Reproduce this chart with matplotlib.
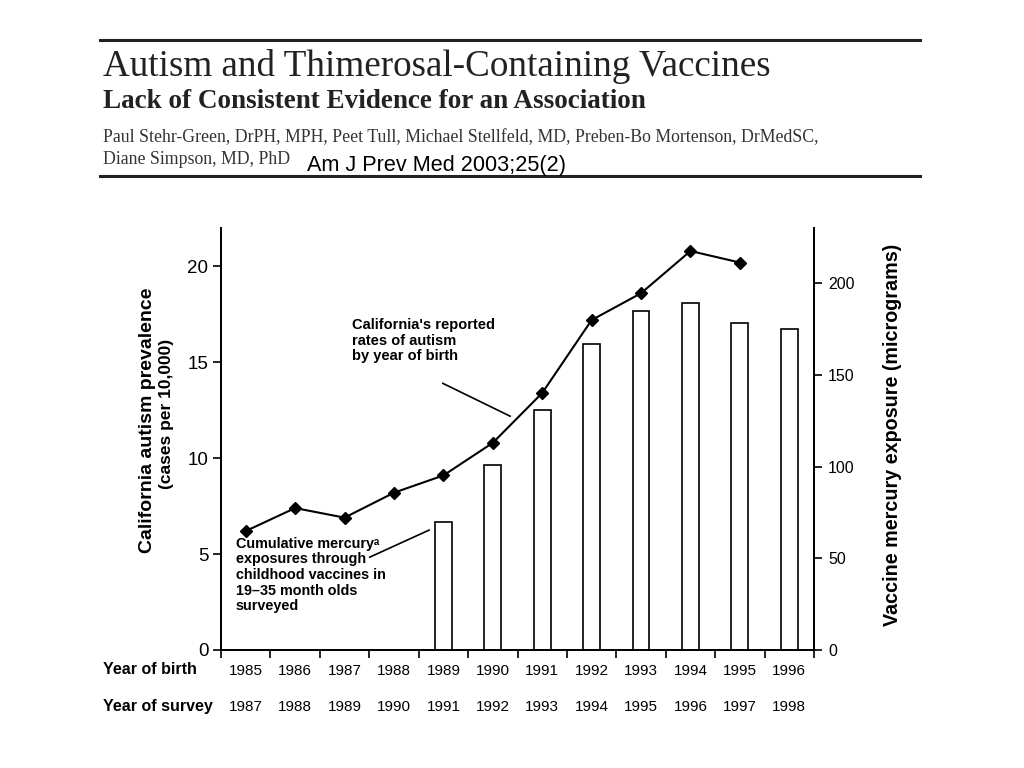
import numpy as np
import matplotlib
matplotlib.use("Agg")
import matplotlib.pyplot as plt
import matplotlib.transforms as mtransforms

# data
birth_years = [1985, 1986, 1987, 1988, 1989, 1990, 1991, 1992, 1993, 1994, 1995, 1996]
survey_years = [1987, 1988, 1989, 1990, 1991, 1992, 1993, 1994, 1995, 1996, 1997, 1998]
autism_years = [1985, 1986, 1987, 1988, 1989, 1990, 1991, 1992, 1993, 1994, 1995]
autism_rate = [6.2, 7.4, 6.9, 8.2, 9.1, 10.8, 13.4, 17.2, 18.6, 20.8, 20.2]
mercury_years = [1989, 1990, 1991, 1992, 1993, 1994, 1995, 1996]
mercury_ug = [70, 101, 131, 167, 185, 189, 178, 175]

W, H = 1024, 768
fig = plt.figure(figsize=(W / 100, H / 100), dpi=100)
fig.patch.set_facecolor("white")

def fx(px):
    return px / W

def fy(py):
    return 1 - py / H

serif = "Liberation Serif"
sans = "Liberation Sans"

# header block
fig.add_artist(plt.Line2D([fx(100), fx(920)], [fy(40), fy(40)], color="#222", lw=2.2))
fig.add_artist(plt.Line2D([fx(100), fx(920)], [fy(176), fy(176)], color="#222", lw=2.2))
fig.text(fx(103), fy(67), "Autism and Thimerosal-Containing Vaccines", family=serif,
         fontsize=26.7, va="center", color="#222")
fig.text(fx(103), fy(101), "Lack of Consistent Evidence for an Association", family=serif,
         fontsize=19.5, weight="bold", va="center", color="#222")
fig.text(fx(103), fy(138), "Paul Stehr-Green, DrPH, MPH, Peet Tull, Michael Stellfeld, MD, "
         "Preben-Bo Mortenson, DrMedSC,", family=serif, fontsize=12.8, va="center", color="#333")
fig.text(fx(103), fy(160), "Diane Simpson, MD, PhD", family=serif, fontsize=12.8,
         va="center", color="#333")
fig.text(fx(307), fy(165), "Am J Prev Med 2003;25(2)", family=sans, fontsize=15.6,
         va="center", color="black")

# chart
ax = fig.add_axes([fx(221), fy(650), fx(814) - fx(221), (650 - 228) / H])
ax2 = ax.twinx()

n = len(birth_years)
centers = np.arange(n) + 0.5
xb = [centers[birth_years.index(y)] for y in mercury_years]
xa = [centers[birth_years.index(y)] for y in autism_years]

ax2.bar(xb, mercury_ug, width=0.34, color="white", edgecolor="black", lw=1.2, zorder=2)
ax.plot(xa, autism_rate, color="black", lw=1.5, marker="D", ms=6, zorder=5)
ax.set_zorder(ax2.get_zorder() + 1)
ax.patch.set_visible(False)

ax.set_xlim(0, n)
ax.set_ylim(0, 22)
ax2.set_ylim(0, 230)
ax.set_yticks([0, 5, 10, 15, 20])
ax2.set_yticks([0, 50, 100, 150, 200])

ax.set_xticks(np.arange(n + 1))
ax.set_xticklabels([])
ax.set_xticks(centers, minor=True)
ax.set_xticklabels([str(y) for y in birth_years], minor=True)
ax.tick_params(axis="x", which="minor", length=0, pad=10, labelsize=11)
ax.tick_params(axis="x", which="major", length=6, width=1.2, direction="out")
ax.tick_params(axis="y", length=6, width=1.2, labelsize=13.5, pad=3)
ax2.tick_params(axis="y", length=6, width=1.2, labelsize=11.5, pad=4)
for a in (ax, ax2):
    for lab in a.get_xticklabels(which="both") + a.get_yticklabels():
        lab.set_family(sans)
    a.spines["top"].set_visible(False)
    for s in ("left", "right", "bottom"):
        a.spines[s].set_linewidth(1.3)

# survey years row
tr = mtransforms.blended_transform_factory(ax.transData, fig.transFigure)
for c, y in zip(centers, survey_years):
    ax.text(c, fy(707), str(y), transform=tr, ha="center", va="center",
            family=sans, fontsize=11)
fig.text(fx(103), fy(670), "Year of birth", family=sans, fontsize=11.5, weight="bold", va="center")
fig.text(fx(103), fy(707), "Year of survey", family=sans, fontsize=11.5, weight="bold", va="center")

# axis titles
fig.text(fx(147), fy(420), "California autism prevalence", family=sans, fontsize=14,
         weight="bold", rotation=90, ha="center", va="center")
fig.text(fx(167), fy(414), "(cases per 10,000)", family=sans, fontsize=12.5,
         weight="bold", rotation=90, ha="center", va="center")
fig.text(fx(893), fy(435), "Vaccine mercury exposure (micrograms)", family=sans, fontsize=14.2,
         weight="bold", rotation=90, ha="center", va="center")

# annotations
ax.text(2.65, 17.3, "California's reported\nrates of autism\nby year of birth", family=sans,
        fontsize=10.5, weight="bold", va="top", ha="left", linespacing=1.15)
ax.plot([4.49, 5.85], [13.9, 12.19], color="black", lw=1.2)
ax.text(0.30, 5.9, "Cumulative mercury\u1d43\nexposures through\nchildhood vaccines in\n"
        "19\u201335 month olds\nsurveyed", family=[sans, "DejaVu Sans"], fontsize=10.4,
        weight="bold", va="top", ha="left", linespacing=1.15)
ax.plot([3.01, 4.21], [4.84, 6.25], color="black", lw=1.2)

fig.savefig("out.png", dpi=100)
